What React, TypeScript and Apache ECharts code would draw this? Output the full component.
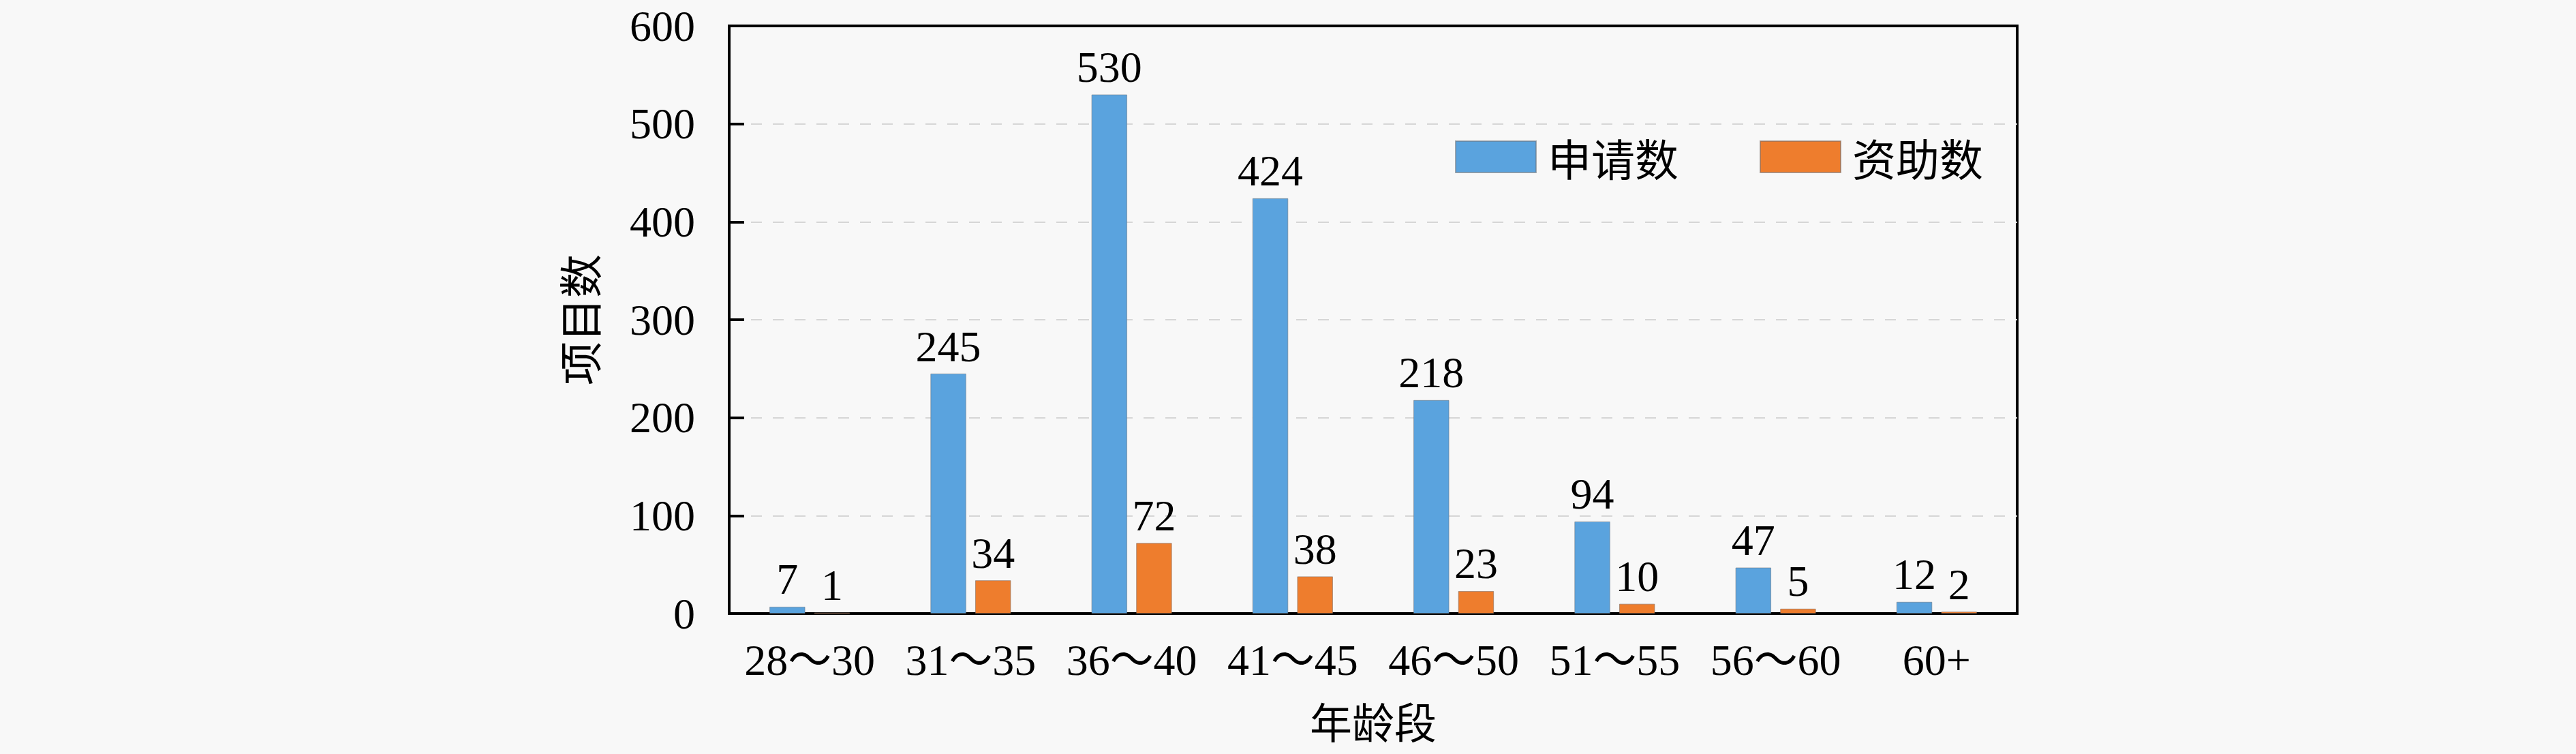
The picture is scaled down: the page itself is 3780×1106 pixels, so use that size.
import React, { useEffect, useRef } from "react";
import * as echarts from "echarts";

const categories = ["28～30", "31～35", "36～40", "41～45", "46～50", "51～55", "56～60", "60+"];
const applyCounts = [7, 245, 530, 424, 218, 94, 47, 12];
const fundCounts = [1, 34, 72, 38, 23, 10, 5, 2];
const seriesNames = ["申请数", "资助数"];
const yTicks = { min: 0, max: 600, interval: 100 };

const SERIF = "'Liberation Serif', 'Noto Sans CJK SC', serif";
const CJK = "'Noto Sans CJK SC', 'Liberation Serif', sans-serif";

export default function App() {
  const ref = useRef<HTMLDivElement>(null);
  useEffect(() => {
    document.body.style.margin = "0";
    if (!ref.current) return;
    const chart = echarts.init(ref.current, undefined, { renderer: "svg" });
    const labelStyle = {
      show: true,
      position: "top" as const,
      distance: 8,
      fontSize: 64,
      fontFamily: SERIF,
      color: "#000",
    };
    chart.setOption({
      animation: false,
      backgroundColor: "#f8f8f8",
      grid: {
        left: 1070,
        right: 820,
        top: 38,
        bottom: 206,
        show: true,
        borderColor: "#000",
        borderWidth: 4,
        backgroundColor: "transparent",
      },
      legend: {
        left: 2135,
        top: 198,
        itemWidth: 118,
        itemHeight: 46,
        itemGap: 119,
        padding: 0,
        icon: "rect",
        textStyle: { fontSize: 64, fontFamily: CJK, color: "#000", padding: [0, 0, 0, 12], lineHeight: 64 },
        data: seriesNames,
      },
      xAxis: {
        type: "category",
        data: categories,
        name: "年龄段",
        nameLocation: "middle",
        nameGap: 130,
        nameTextStyle: { fontSize: 62, fontFamily: CJK, color: "#000", lineHeight: 54 },
        axisLine: { lineStyle: { color: "#000", width: 4 } },
        axisTick: { inside: true, length: 23, lineStyle: { color: "#000", width: 4 } },
        axisLabel: { interval: 0, fontSize: 64, fontFamily: SERIF, color: "#000", margin: 40, lineHeight: 56 },
        splitLine: { show: false },
      },
      yAxis: {
        type: "value",
        min: yTicks.min,
        max: yTicks.max,
        interval: yTicks.interval,
        name: "项目数",
        nameLocation: "middle",
        nameGap: 190,
        nameTextStyle: { fontSize: 64, fontFamily: CJK, color: "#000" },
        axisLine: { show: true, lineStyle: { color: "#000", width: 4 } },
        axisTick: { show: true, inside: true, length: 22, lineStyle: { color: "#000", width: 4 } },
        axisLabel: { fontSize: 64, fontFamily: SERIF, color: "#000", margin: 50, lineHeight: 50 },
        splitLine: {
          show: true,
          showMinLine: false,
          showMaxLine: false,
          lineStyle: { color: "#d6d6d6", width: 2, type: [16, 16] },
        },
      },
      series: [
        {
          name: seriesNames[0],
          type: "bar",
          data: applyCounts,
          barCategoryGap: "50%",
          barGap: "25%",
          itemStyle: { color: "#5aa3de", borderColor: "rgba(110,120,130,0.6)", borderWidth: 1 },
          label: labelStyle,
        },
        {
          name: seriesNames[1],
          type: "bar",
          data: fundCounts,
          barCategoryGap: "50%",
          barGap: "25%",
          itemStyle: { color: "#ee7d2d", borderColor: "rgba(130,110,100,0.6)", borderWidth: 1 },
          label: labelStyle,
        },
      ],
    });
    return () => chart.dispose();
  }, []);
  return <div ref={ref} style={{ width: 3780, height: 1106 }} />;
}
